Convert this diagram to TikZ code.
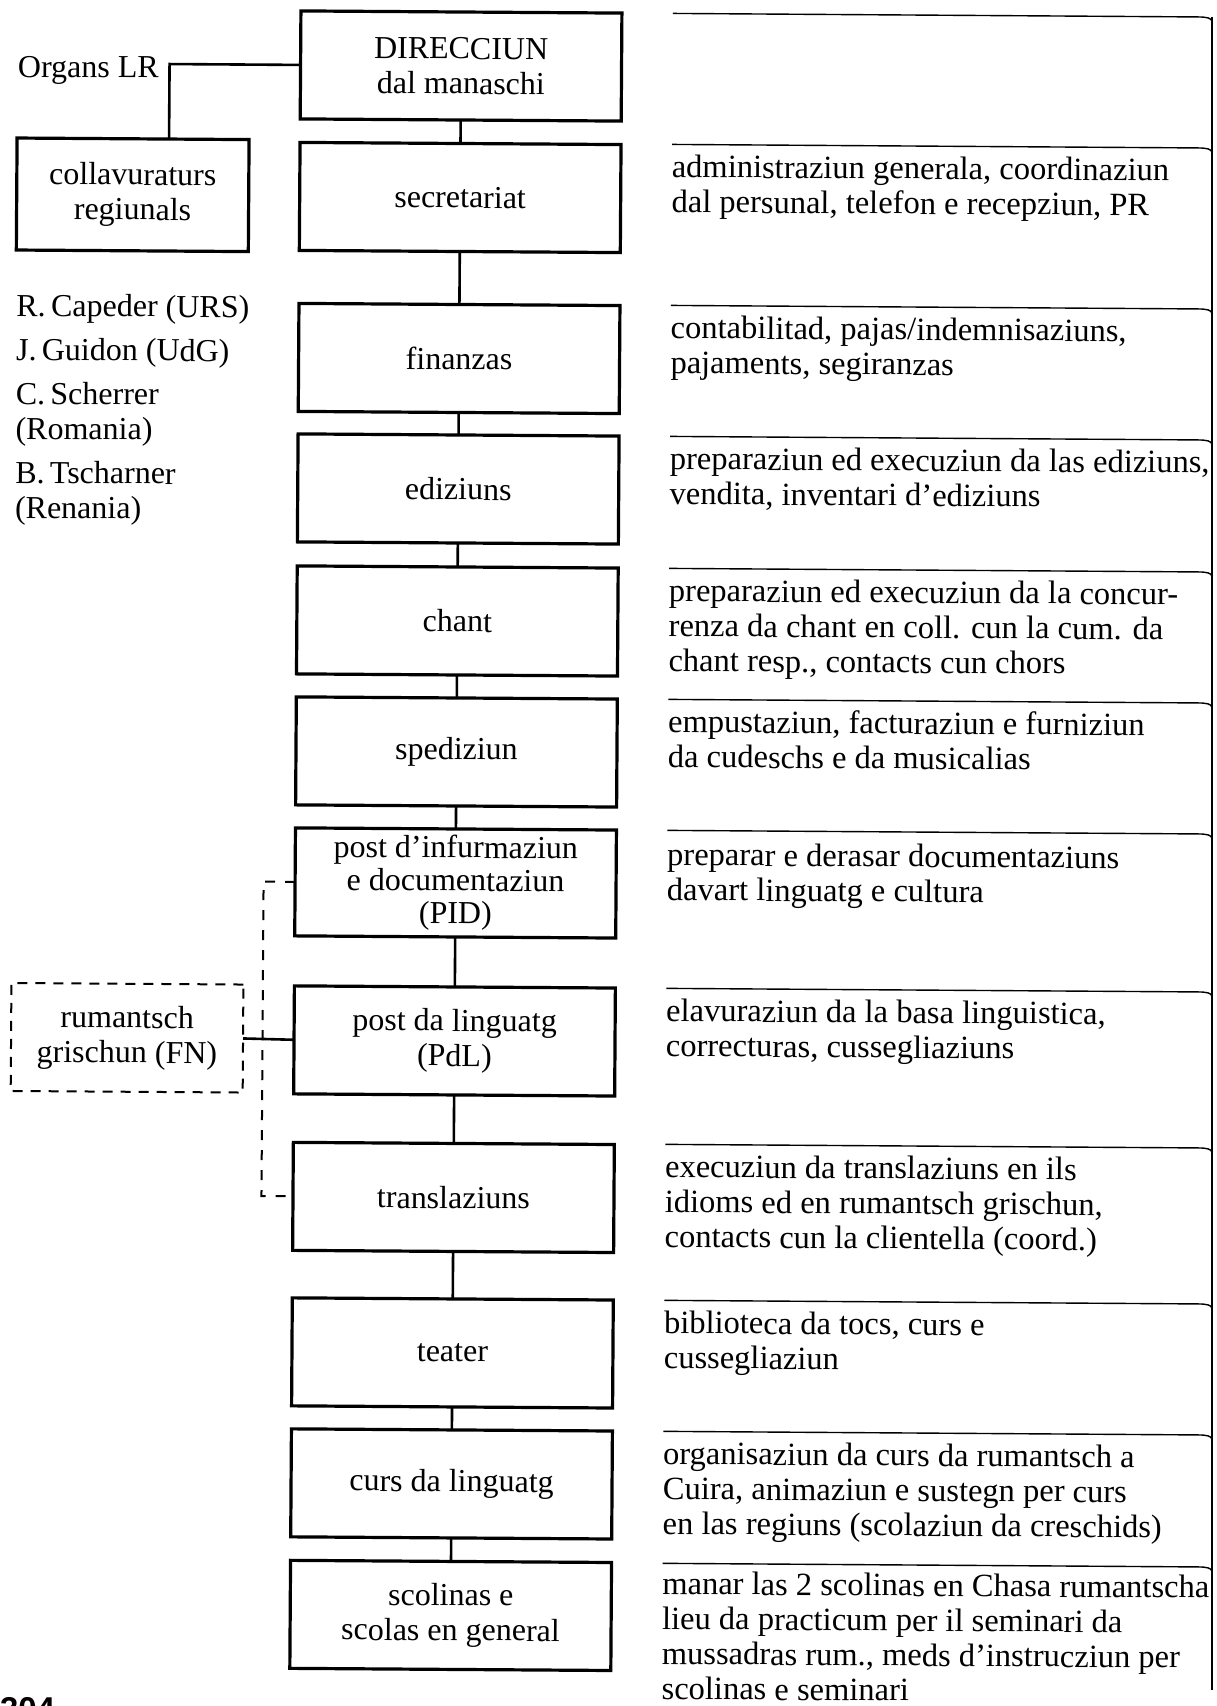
\documentclass[tikz,border=0pt]{standalone}
\usepackage{fontspec}
\setmainfont{Liberation Serif}
\newfontfamily\pagenofont{Liberation Sans}
\newcommand\desctext[1]{\begin{tabular}[t]{@{}l@{}}#1\end{tabular}}
\begin{document}
\begin{tikzpicture}[x=1pt,y=-1pt,
  every node/.style={font=\fontsize{32}{35}\selectfont, inner sep=0pt, outer sep=0pt},
  unitbox/.style={draw, line width=3.2pt, minimum width=321pt, minimum height=108pt, align=center},
  sidebox/.style={draw, line width=3.2pt, minimum width=232pt, align=center},
  dashbox/.style={draw, line width=2pt, dash pattern=on 10pt off 8pt, minimum width=232pt, minimum height=108pt, align=center},
  link/.style={line width=2.6pt},
  dashlink/.style={line width=2pt, dash pattern=on 10pt off 10pt},
  rulestyle/.style={line width=1.4pt},
  desc/.style={anchor=base west, font=\fontsize{32.5}{35}\selectfont}]
\fill[white] (0,0) rectangle (1216,1706);
\useasboundingbox (0,0) rectangle (1216,1706);

\begin{scope}[rotate around={-0.384:(461,0)}, transform shape]
% main column
\node[unitbox] (dir)   at (461.5,66)    {DIRECCIUN\\dal manaschi};
\node[unitbox] (sec)   at (461.5,197.5) {secretariat};
\node[unitbox] (fin)   at (461.5,358.5) {finanzas};
\node[unitbox] (edi)   at (461.5,489)   {ediziuns};
\node[unitbox] (chant) at (461.5,621)   {chant};
\node[unitbox] (sped)  at (461.5,752)   {spediziun};
\node[unitbox, font=\fontsize{32}{33}\selectfont] (pid) at (461.5,883) {post d’infurmaziun\\e documentaziun\\(PID)};
\node[unitbox] (pdl)   at (461.5,1041)  {post da linguatg\\(PdL)};
\node[unitbox] (trans) at (461.5,1197.5){translaziuns};
\node[unitbox] (teat)  at (461.5,1353)  {teater};
\node[unitbox] (curs)  at (461.5,1484)  {curs da linguatg};
\node[unitbox] (scol)  at (461.5,1615.5){scolinas e\\scolas en general};

% left side
\node[anchor=base west] (organs) at (18.5,80) {Organs LR};
\node[sidebox, minimum height=112pt] (collab) at (134,197) {collavuraturs\\regiunals};
\node[anchor=base west] (names) at (18.5,319) {\desctext{R.\,Capeder (URS)\\[9pt]J.\,Guidon (UdG)\\[9pt]C.\,Scherrer\\(Romania)\\[9pt]B.\,Tscharner\\(Renania)}};
\node[dashbox] (rum) at (134,1040) {rumantsch\\grischun (FN)};

% connectors
\draw[link] (dir.south) -- (sec.north);
\draw[link] (sec.south) -- (fin.north);
\draw[link] (fin.south) -- (edi.north);
\draw[link] (edi.south) -- (chant.north);
\draw[link] (chant.south) -- (sped.north);
\draw[link] (sped.south) -- (pid.north);
\draw[link] (pid.south) -- (pdl.north);
\draw[link] (pdl.south) -- (trans.north);
\draw[link] (trans.south) -- (teat.north);
\draw[link] (teat.south) -- (curs.north);
\draw[link] (curs.south) -- (scol.north);
\coordinate (ojoint) at (170,66);
\draw[link] (dir.west) -- (ojoint) -- (ojoint |- collab.north);
\draw[link] (rum.east) -- (pdl.west);
\draw[dashlink] (pid.west) -- ++(-31.5,0) |- (trans.west);

% rules, bending into the page-edge line at the right
\foreach \ry in {12,143,304,435,567,698,829,987,1143,1299,1430,1562} {
  \pgfmathsetmacro\xe{1212+0.0067*\ry}
  \draw[rulestyle] (673,\ry) -- ({\xe-14},\ry) .. controls ({\xe-5},\ry) and ({\xe-1},{\ry+1}) .. (\xe,{\ry+4});
}

% descriptions
\node[desc] (dsec) at (673,176) {\desctext{administraziun generala, coordinaziun\\dal persunal, telefon e recepziun, PR}};
\node[desc] (dfin) at (673,337) {\desctext{contabilitad, pajas/indemnisaziuns,\\pajaments, segiranzas}};
\node[desc] (dedi) at (673,468) {\desctext{preparaziun ed execuziun da las ediziuns,\\vendita, inventari d’ediziuns}};
\node[desc] (dchant) at (673,600) {\desctext{preparaziun ed execuziun da la concur-\\renza da chant en coll. cun la cum. da\\chant resp., contacts cun chors}};
\node[desc] (dsped) at (673,731) {\desctext{empustaziun, facturaziun e furniziun\\da cudeschs e da musicalias}};
\node[desc] (dpid) at (673,864) {\desctext{preparar e derasar documentaziuns\\davart linguatg e cultura}};
\node[desc] (dpdl) at (673,1020) {\desctext{elavuraziun da la basa linguistica,\\correcturas, cussegliaziuns}};
\node[desc] (dtrans) at (673,1176) {\desctext{execuziun da translaziuns en ils\\idioms ed en rumantsch grischun,\\contacts cun la clientella (coord.)}};
\node[desc] (dteat) at (673,1332) {\desctext{biblioteca da tocs, curs e\\cussegliaziun}};
\node[desc] (dcurs) at (673,1463) {\desctext{organisaziun da curs da rumantsch a\\Cuira, animaziun e sustegn per curs\\en las regiuns (scolaziun da creschids)}};
\node[desc] (dscol) at (673,1593) {\desctext{manar las 2 scolinas en Chasa rumantscha\\lieu da practicum per il seminari da\\mussadras rum., meds d’instrucziun per\\scolinas e seminari}};
\end{scope}

% right page edge line
\draw[line width=2pt] (1212,17) -- (1212,1690);
% page number (cut by page edge)
\node[anchor=base west, font=\pagenofont\bfseries\fontsize{33}{33}\selectfont] (pageno) at (0,1720) {304};
\end{tikzpicture}
\end{document}
